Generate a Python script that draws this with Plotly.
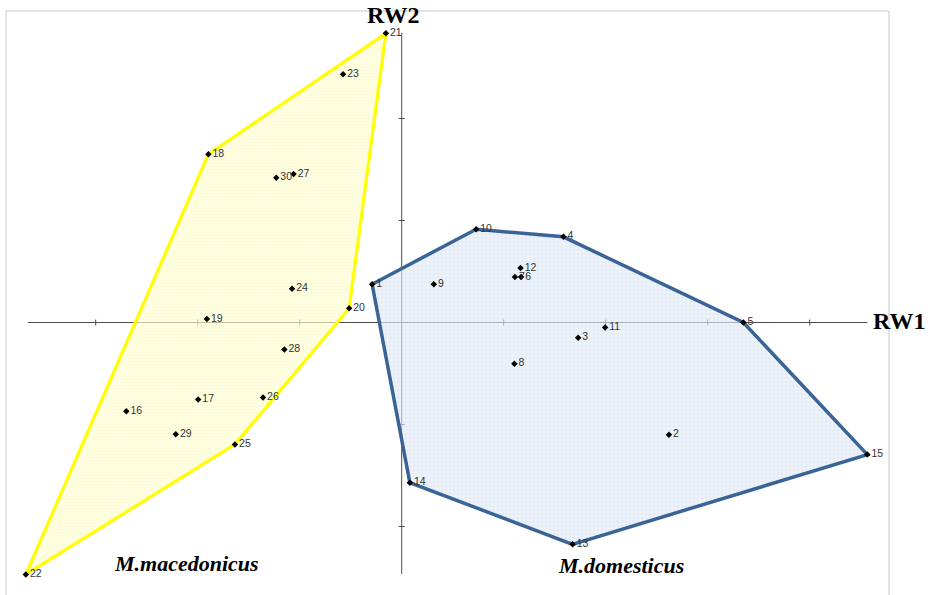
import numpy as np
import plotly.graph_objects as go

# Relative-warp scores (RW1, RW2) per specimen
dom_ids = [1, 2, 3, 4, 5, 6, 7, 8, 9, 10, 11, 12, 13, 14, 15]
dom_rw1 = [-0.0058, 0.0524, 0.0346, 0.0317, 0.0670, 0.0234, 0.0222, 0.0221,
           0.0063, 0.0146, 0.0399, 0.0233, 0.0335, 0.0016, 0.0913]
dom_rw2 = [0.0075, -0.0220, -0.0030, 0.0168, 0.0000, 0.0089, 0.0089, -0.0081,
           0.0075, 0.0183, -0.0010, 0.0107, -0.0435, -0.0314, -0.0259]

mac_ids = [16, 17, 18, 19, 20, 21, 22, 23, 24, 25, 26, 27, 28, 29, 30]
mac_rw1 = [-0.0540, -0.0399, -0.0379, -0.0382, -0.0103, -0.0031, -0.0737, -0.0115,
           -0.0215, -0.0327, -0.0272, -0.0212, -0.0230, -0.0443, -0.0246]
mac_rw2 = [-0.0174, -0.0151, 0.0330, 0.0007, 0.0028, 0.0567, -0.0494, 0.0487,
           0.0066, -0.0239, -0.0147, 0.0291, -0.0053, -0.0219, 0.0284]

# Convex hull outlines (specimen ids, in drawing order)
dom_hull = [1, 10, 4, 5, 15, 13, 14]
mac_hull = [21, 20, 25, 22, 18]

species_names = ["M.macedonicus", "M.domesticus"]
axis_titles = ["RW1", "RW2"]

# Axis extent and tick step
AXIS_X = (-0.0733, 0.0913)
AXIS_Y = (-0.0493, 0.0568)
TICK_STEP = 0.02

# Figure geometry (pixels)
W, H = 932, 595
L, R, T, B = 16, 880, 24, 585
ORIGIN_PX = (401.7, 322.5)
PX_PER_UNIT = 102 / TICK_STEP

x_range = [(L - ORIGIN_PX[0]) / PX_PER_UNIT, (R - ORIGIN_PX[0]) / PX_PER_UNIT]
y_range = [(ORIGIN_PX[1] - B) / PX_PER_UNIT, (ORIGIN_PX[1] - T) / PX_PER_UNIT]


def px_x(px):
    return (px - L) / (R - L)


def px_y(py):
    return (B - py) / (B - T)


def hull_coords(ids, hull, xs, ys):
    idx = [ids.index(h) for h in hull] + [ids.index(hull[0])]
    return [xs[i] for i in idx], [ys[i] for i in idx]


fig = go.Figure()

mx, my = hull_coords(mac_ids, mac_hull, mac_rw1, mac_rw2)
fig.add_trace(go.Scatter(
    x=mx, y=my, mode="lines", fill="toself",
    line=dict(color="#ffff00", width=3.2),
    fillcolor="rgba(255,255,200,0.55)",
    fillpattern=dict(shape=".", fgcolor="rgba(240,235,150,0.45)",
                     bgcolor="rgba(255,255,215,0.6)", size=3, solidity=0.5),
    hoverinfo="skip", showlegend=False,
))

dx, dy = hull_coords(dom_ids, dom_hull, dom_rw1, dom_rw2)
fig.add_trace(go.Scatter(
    x=dx, y=dy, mode="lines", fill="toself",
    line=dict(color="#3a6496", width=3.5),
    fillcolor="rgba(210,225,245,0.6)",
    fillpattern=dict(shape="+", fgcolor="rgba(190,208,236,0.55)",
                     bgcolor="rgba(228,237,249,0.6)", size=4, solidity=0.4),
    hoverinfo="skip", showlegend=False,
))

label_font = dict(family="Liberation Sans, Arial", size=10.5, color="#333333")
for ids, xs, ys in [(dom_ids, dom_rw1, dom_rw2), (mac_ids, mac_rw1, mac_rw2)]:
    fig.add_trace(go.Scatter(
        x=xs, y=ys, mode="markers+text",
        text=[str(i) for i in ids], textposition="middle right",
        textfont=label_font,
        marker=dict(symbol="diamond", size=5, color="black"),
        cliponaxis=False, hoverinfo="skip", showlegend=False,
    ))

shapes = []
axis_color = "#4d4d4d"
# axis lines through the origin
shapes.append(dict(type="line", xref="x", yref="y", x0=AXIS_X[0], x1=AXIS_X[1],
                   y0=0, y1=0, line=dict(color=axis_color, width=1), layer="below"))
shapes.append(dict(type="line", xref="x", yref="y", x0=0, x1=0,
                   y0=AXIS_Y[0], y1=AXIS_Y[1], line=dict(color=axis_color, width=1), layer="below"))
# cross tick marks
xticks = np.arange(np.ceil(AXIS_X[0] / TICK_STEP), np.floor(AXIS_X[1] / TICK_STEP) + 1) * TICK_STEP
yticks = np.arange(np.ceil(AXIS_Y[0] / TICK_STEP), np.floor(AXIS_Y[1] / TICK_STEP) + 1) * TICK_STEP
for t in xticks:
    if abs(t) > 1e-9:
        shapes.append(dict(type="line", xref="x", yref="y", ysizemode="pixel", yanchor=0,
                           x0=t, x1=t, y0=-3, y1=3, line=dict(color=axis_color, width=1), layer="below"))
for t in yticks:
    if abs(t) > 1e-9:
        shapes.append(dict(type="line", xref="x", yref="y", xsizemode="pixel", xanchor=0,
                           y0=t, y1=t, x0=-3, x1=3, line=dict(color=axis_color, width=1), layer="below"))
# chart area border
shapes.append(dict(type="rect", xref="paper", yref="paper",
                   x0=px_x(6), x1=px_x(889), y0=px_y(600), y1=px_y(11),
                   line=dict(color="#c8c8c8", width=1), fillcolor="rgba(0,0,0,0)", layer="below"))

serif = "Liberation Serif, Times New Roman"
annotations = [
    dict(text="<b>" + axis_titles[0] + "</b>", xref="paper", yref="paper",
         x=px_x(899.5), y=px_y(321), xanchor="center", yanchor="middle",
         showarrow=False, font=dict(family=serif, size=24, color="black")),
    dict(text="<b>" + axis_titles[1] + "</b>", xref="paper", yref="paper",
         x=px_x(393), y=px_y(15), xanchor="center", yanchor="middle",
         showarrow=False, font=dict(family=serif, size=24, color="black")),
    dict(text="<b><i>" + species_names[0] + "</i></b>", xref="paper", yref="paper",
         x=px_x(186), y=px_y(563), xanchor="center", yanchor="middle",
         showarrow=False, font=dict(family=serif, size=22, color="black")),
    dict(text="<b><i>" + species_names[1] + "</i></b>", xref="paper", yref="paper",
         x=px_x(621), y=px_y(565), xanchor="center", yanchor="middle",
         showarrow=False, font=dict(family=serif, size=22, color="black")),
]

fig.update_layout(
    width=W, height=H,
    margin=dict(l=L, r=W - R, t=T, b=H - B, pad=0),
    paper_bgcolor="white", plot_bgcolor="white",
    xaxis=dict(range=x_range, visible=False, fixedrange=True),
    yaxis=dict(range=y_range, visible=False, fixedrange=True),
    shapes=shapes, annotations=annotations,
)

fig.write_html("out.html")
